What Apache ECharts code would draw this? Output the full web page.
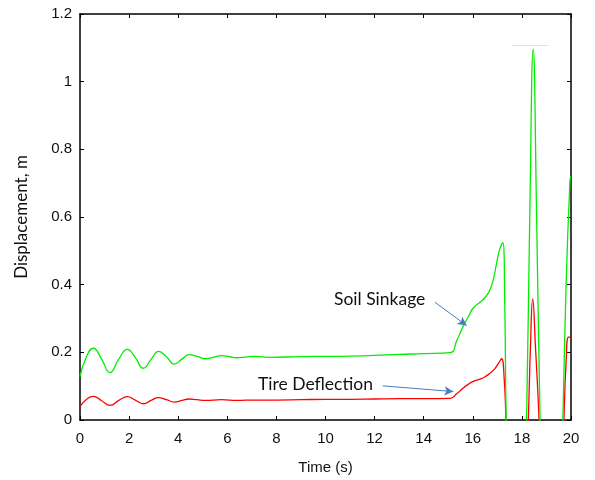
<!DOCTYPE html>
<html>
<head>
<meta charset="utf-8">
<script src="https://cdn.jsdelivr.net/npm/echarts@6/dist/echarts.min.js"></script>
<style>
  html, body { margin: 0; padding: 0; background: #fff; }
  #chart { width: 595px; height: 480px; }
</style>
</head>
<body>
<div id="chart"></div>
<script>
// Time (s) and displacement (m); values below zero are clipped by the axis.
const soilTime = [0, 0.25, 0.54, 0.88, 1.22, 1.58, 1.93, 2.25, 2.58, 2.9, 3.2, 3.52, 3.84, 4.15, 4.45, 4.77, 5.09, 5.43, 5.77, 6.1, 6.4, 6.75, 7.1, 7.8, 9, 10, 11, 12, 13, 14, 15.07, 15.35, 15.6, 15.85, 16.02, 16.29, 16.5, 16.7, 16.85, 16.97, 17.1, 17.22, 17.3, 17.36, 17.5, 18.05, 18.19, 18.32, 18.46, 18.6, 18.74, 18.88, 19.52, 19.67, 19.8, 19.96, 20];
const soilSinkage = [0.128, 0.185, 0.212, 0.18, 0.14, 0.18, 0.209, 0.185, 0.153, 0.18, 0.203, 0.187, 0.165, 0.18, 0.193, 0.188, 0.181, 0.185, 0.19, 0.187, 0.184, 0.186, 0.188, 0.185, 0.1875, 0.188, 0.189, 0.191, 0.194, 0.196, 0.199, 0.235, 0.276, 0.31, 0.331, 0.348, 0.362, 0.385, 0.42, 0.464, 0.505, 0.524, 0.35, 0, -0.4, -0.4, 0, 0.6, 1.096, 0.6, 0, -0.4, -0.4, 0, 0.4, 0.711, 0.72];

const tireTime = [0, 0.25, 0.54, 0.88, 1.22, 1.58, 1.93, 2.25, 2.58, 2.9, 3.2, 3.52, 3.84, 4.15, 4.45, 4.77, 5.09, 5.77, 6.4, 7.1, 8, 9, 10, 11, 12, 13, 14, 15.07, 15.35, 15.6, 15.85, 16.02, 16.3, 16.5, 16.7, 16.9, 17.05, 17.17, 17.28, 17.35, 17.5, 18.1, 18.26, 18.35, 18.44, 18.55, 18.7, 18.85, 19.55, 19.71, 19.8, 19.9, 20];
const tireDeflection = [0.04, 0.06, 0.07, 0.057, 0.043, 0.058, 0.069, 0.059, 0.048, 0.058, 0.066, 0.06, 0.053, 0.058, 0.062, 0.06, 0.058, 0.06, 0.058, 0.059, 0.059, 0.06, 0.061, 0.061, 0.062, 0.063, 0.063, 0.064, 0.078, 0.094, 0.107, 0.114, 0.121, 0.128, 0.138, 0.152, 0.168, 0.181, 0.12, 0, -0.3, -0.3, 0, 0.22, 0.358, 0.22, 0, -0.3, -0.3, 0, 0.17, 0.245, 0.245];

const xTicks = [0, 2, 4, 6, 8, 10, 12, 14, 16, 18, 20];
const yTicks = [0, 0.2, 0.4, 0.6, 0.8, 1, 1.2];

// Annotation arrows, data coordinates [time, displacement]
const soilArrow = [[14.46, 0.348], [15.75, 0.279]];
const tireArrow = [[12.33, 0.101], [15.21, 0.084]];
const faintLine = [[17.6, 1.107], [19.07, 1.107]];

const pair = (xs, ys) => xs.map((x, i) => [x, ys[i]]);

const chart = echarts.init(document.getElementById("chart"), null, { renderer: "canvas" });

const tickFont = { fontFamily: "Liberation Sans", fontSize: 15, color: "#111" };
const boxLine = { show: true, onZero: false, lineStyle: { color: "#000", width: 1.5 } };
const inTick = { show: true, inside: true, length: 4, lineStyle: { color: "#000", width: 1 } };

const xBase = { type: "value", min: 0, max: 20, interval: 2, splitLine: { show: false }, axisLine: boxLine, axisTick: inTick };
const yBase = { type: "value", min: 0, max: 1.2, interval: 0.2, splitLine: { show: false }, axisLine: boxLine, axisTick: inTick };

const arrowStyle = { color: "#4a7ebb", width: 1, type: "solid" };

chart.setOption({
  animation: false,
  backgroundColor: "#fff",
  grid: { left: 80, right: 24, top: 14, bottom: 60 },
  xAxis: [
    {
      ...xBase,
      position: "bottom",
      name: "Time (s)",
      nameLocation: "middle",
      nameGap: 40,
      nameTextStyle: { fontFamily: "Liberation Sans", fontSize: 15, color: "#111" },
      axisLabel: { ...tickFont, margin: 11, formatter: (v) => (xTicks.includes(v) ? String(v) : "") },
    },
    { ...xBase, position: "top", axisLabel: { show: false } },
  ],
  yAxis: [
    {
      ...yBase,
      position: "left",
      name: "Displacement, m",
      nameLocation: "middle",
      nameGap: 50,
      nameTextStyle: { fontFamily: "Lato", fontSize: 17, color: "#111" },
      axisLabel: { ...tickFont, margin: 8, formatter: (v) => (yTicks.some((t) => Math.abs(t - v) < 1e-9) ? String(+v.toFixed(1)) : "") },
    },
    { ...yBase, position: "right", axisLabel: { show: false } },
  ],
  series: [
    {
      name: "Tire Deflection",
      type: "line",
      data: pair(tireTime, tireDeflection),
      showSymbol: false,
      smooth: 0.5,
      clip: true,
      z: 2,
      lineStyle: { color: "#ff0000", width: 1.3 },
    },
    {
      name: "Soil Sinkage",
      type: "line",
      data: pair(soilTime, soilSinkage),
      showSymbol: false,
      smooth: 0.5,
      clip: true,
      z: 3,
      lineStyle: { color: "#00ee00", width: 1.3 },
      markLine: {
        silent: true,
        symbol: ["none", "arrow"],
        symbolSize: [7, 9],
        label: { show: false },
        data: [
          [{ coord: soilArrow[0], lineStyle: arrowStyle }, { coord: soilArrow[1] }],
          [{ coord: tireArrow[0], lineStyle: arrowStyle }, { coord: tireArrow[1] }],
          [
            { coord: faintLine[0], symbol: "none", lineStyle: { color: "#c8f5c8", width: 1, type: "solid" } },
            { coord: faintLine[1], symbol: "none" },
          ],
        ],
      },
    },
  ],
  graphic: [
    { type: "text", left: 334, top: 290, style: { text: "Soil Sinkage", font: "17.5px Lato", fill: "#111" } },
    { type: "text", left: 258, top: 375, style: { text: "Tire Deflection", font: "17.5px Lato", fill: "#111" } },
  ],
});
</script>
</body>
</html>
